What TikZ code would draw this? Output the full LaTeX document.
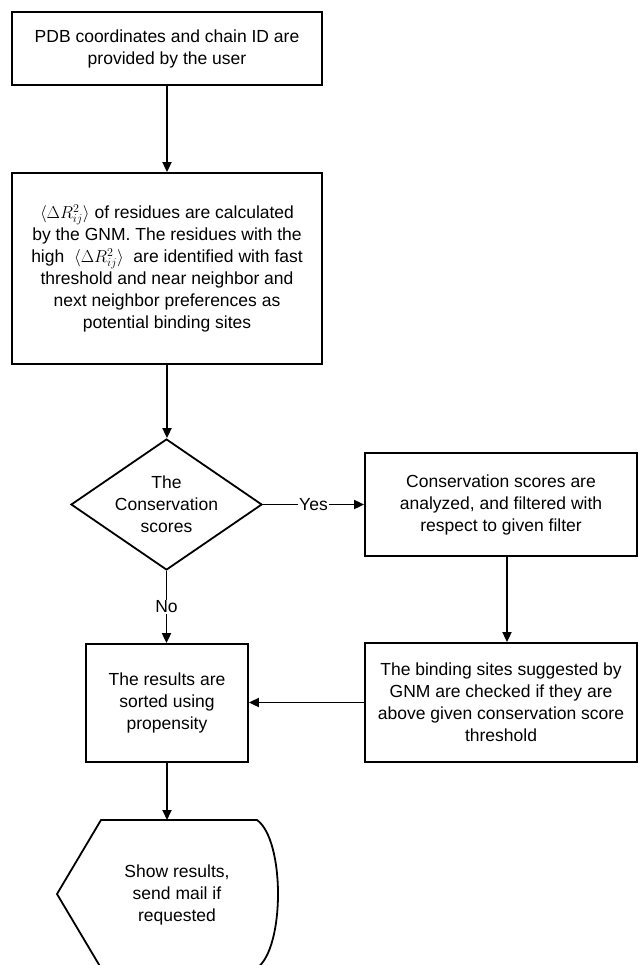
\documentclass[tikz,border=0pt]{standalone}
\usepackage{fontspec}
\setmainfont{Liberation Sans}
\usetikzlibrary{shapes.geometric,arrows.meta}
\begin{document}
\begin{tikzpicture}[x=1pt,y=-1pt,
  every node/.style={font=\fontsize{17.5}{22}\selectfont, align=center},
  box/.style={draw, line width=1.8pt, inner sep=0pt},
  dec/.style={draw, shape=diamond, line width=1.8pt, inner sep=-12pt, aspect=1.45, minimum width=191pt, minimum height=131pt},
  conn/.style={line width=1.8pt, -{Triangle[length=10pt,width=9pt]}},
  lab/.style={fill=white, inner sep=1pt}]
\useasboundingbox (0,0) rectangle (637,965);
\node[box, minimum width=310pt, minimum height=73pt] (b1) at (167,48.5)
  {PDB coordinates and chain ID are\\provided by the user};
\node[box, minimum width=310pt, minimum height=191pt] (b2) at (167,268.5)
  {$\langle\Delta R_{ij}^2\rangle$ of residues are calculated\\
   by the GNM. The residues with the\\
   high~~$\langle\Delta R_{ij}^2\rangle$~~are identified with fast\\
   threshold and near neighbor and\\
   next neighbor preferences as\\
   potential binding sites};
\node[dec] (d) at (166.5,504.5) {The\\Conservation\\scores};
\node[box, minimum width=272pt, minimum height=103pt] (b3) at (501,504.5)
  {Conservation scores are\\analyzed, and filtered with\\respect to given filter};
\node[box, minimum width=272pt, minimum height=119pt] (b5) at (501,702.5)
  {The binding sites suggested by\\GNM are checked if they are\\above given conservation score\\threshold};
\node[box, minimum width=162pt, minimum height=118pt] (b4) at (167,703)
  {The results are\\sorted using\\propensity};
\node (show) at (177,895) {Show results,\\send mail if\\requested};
\draw[line width=1.8pt] (101,820) -- (257,820) .. controls (285,840) and (285,948) .. (257,968)
  -- (101,968) -- (57,894) -- cycle;
\coordinate (showtop) at (167,820);
\coordinate (arrx) at (507,0);
\draw[conn] (b1.south) -- (b2.north);
\draw[conn] (b2.south) -- (b2.south |- d.north);
\draw[conn] (d.east) -- node[lab] {Yes} (b3.west);
\draw[conn] (d.south) -- node[lab] {No} (d.south |- b4.north);
\draw[conn] (b3.south -| arrx) -- (b5.north -| arrx);
\draw[conn] (b5.west) -- (b5.west -| b4.east);
\draw[conn] (b4.south) -- (showtop);
\end{tikzpicture}
\end{document}
